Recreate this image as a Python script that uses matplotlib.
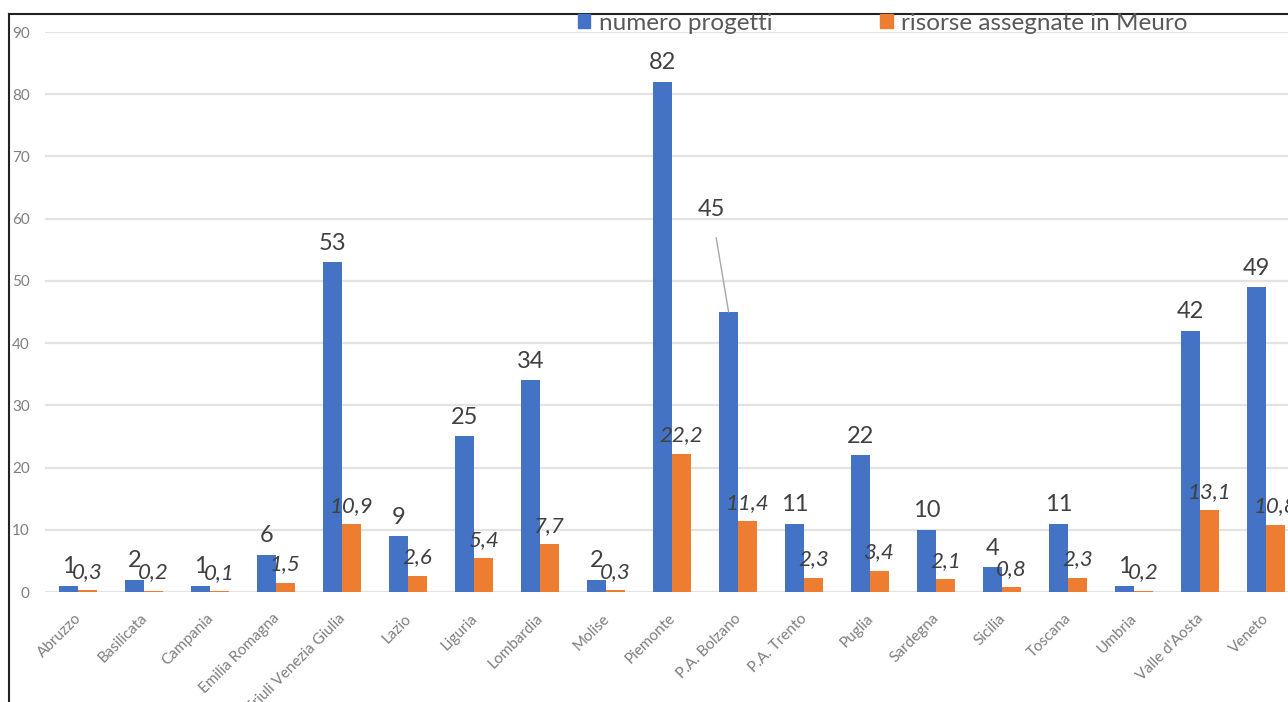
import numpy as np
import matplotlib
matplotlib.use('Agg')
import matplotlib.pyplot as plt
import matplotlib.transforms as mtransforms
from matplotlib.patches import Patch
from matplotlib.lines import Line2D

regioni = ['Abruzzo', 'Basilicata', 'Campania', 'Emilia Romagna', 'Friuli Venezia Giulia',
           'Lazio', 'Liguria', 'Lombardia', 'Molise', 'Piemonte', 'P.A. Bolzano',
           'P.A. Trento', 'Puglia', 'Sardegna', 'Sicilia', 'Toscana', 'Umbria',
           "Valle d'Aosta", 'Veneto']
progetti = [1, 2, 1, 6, 53, 9, 25, 34, 2, 82, 45, 11, 22, 10, 4, 11, 1, 42, 49]
risorse = [0.3, 0.2, 0.1, 1.5, 10.9, 2.6, 5.4, 7.7, 0.3, 22.2, 11.4, 2.3, 3.4, 2.1,
           0.8, 2.3, 0.2, 13.1, 10.8]
y_ticks = [0, 10, 20, 30, 40, 50, 60, 70, 80, 90]

BLUE = '#4472C4'
ORANGE = '#ED7D31'
LABEL = '#404040'
TICK = '#7f7f7f'

plt.rcParams['font.family'] = ['Lato', 'DejaVu Sans']

W, H = 1288, 702
fig = plt.figure(figsize=(W / 100, H / 100), dpi=100)
ax = fig.add_axes([45 / W, 110 / H, (1299 - 45) / W, 560 / H])

x = np.arange(len(regioni))
bw = 0.285
ax.bar(x - bw / 2, progetti, bw, color=BLUE, zorder=3)
ax.bar(x + bw / 2, risorse, bw, color=ORANGE, zorder=3)

ax.set_xlim(-0.5, len(regioni) - 0.5)
ax.set_ylim(0, 90)
ax.set_yticks(y_ticks)
ax.grid(axis='y', color='#e3e3e3', linewidth=1.6, zorder=0)
ax.set_axisbelow(True)
for s in ax.spines.values():
    s.set_visible(False)
ax.tick_params(axis='y', length=0, pad=11, labelsize=11, labelcolor=TICK)
ax.tick_params(axis='x', length=0, pad=11, labelsize=11, labelcolor=TICK)
ax.set_xticks(x)
ax.set_xticklabels(regioni, rotation=45, ha='right', rotation_mode='anchor')
shift = mtransforms.ScaledTranslation(-4 / 100, -4 / 100, fig.dpi_scale_trans)
for lab in ax.get_xticklabels():
    lab.set_transform(lab.get_transform() + shift)

# etichette valori
for i, (p, r) in enumerate(zip(progetti, risorse)):
    if regioni[i] == 'P.A. Bolzano':
        ax.annotate(str(p), xy=(i - bw / 2, p), xytext=(i - bw / 2 - 0.26, p + 16.5),
                    ha='center', va='center', fontsize=17, color=LABEL,
                    arrowprops=dict(arrowstyle='-', color='#a6a6a6', lw=1,
                                    shrinkA=11, shrinkB=0), zorder=4)
    else:
        ax.annotate(str(p), xy=(i - bw / 2, p), xytext=(0, 6), textcoords='offset points',
                    ha='center', va='bottom', fontsize=17, color=LABEL, zorder=4)
    ax.annotate(f'{r:.1f}'.replace('.', ','), xy=(i + bw / 2, r), xytext=(0, 6),
                textcoords='offset points', ha='center', va='bottom', fontsize=16,
                color=LABEL, style='italic', zorder=4)

handles = [Patch(color=BLUE), Patch(color=ORANGE)]
fig.legend(handles, ['numero progetti', 'risorse assegnate in Meuro'], ncol=2,
           loc='center left', bbox_to_anchor=(578 / W, 1 - 23 / H), frameon=False,
           fontsize=17.5, labelcolor='#595959', handlelength=0.5, handleheight=0.5,
           handletextpad=0.35, columnspacing=4.45, borderpad=0, borderaxespad=0)

# cornice
fig.add_artist(Line2D([9 / W, 1], [1 - 14 / H, 1 - 14 / H], color='#222222', lw=1.5))
fig.add_artist(Line2D([9 / W, 9 / W], [0, 1 - 14 / H], color='#222222', lw=1.5))

fig.savefig('out.png', dpi=100)
